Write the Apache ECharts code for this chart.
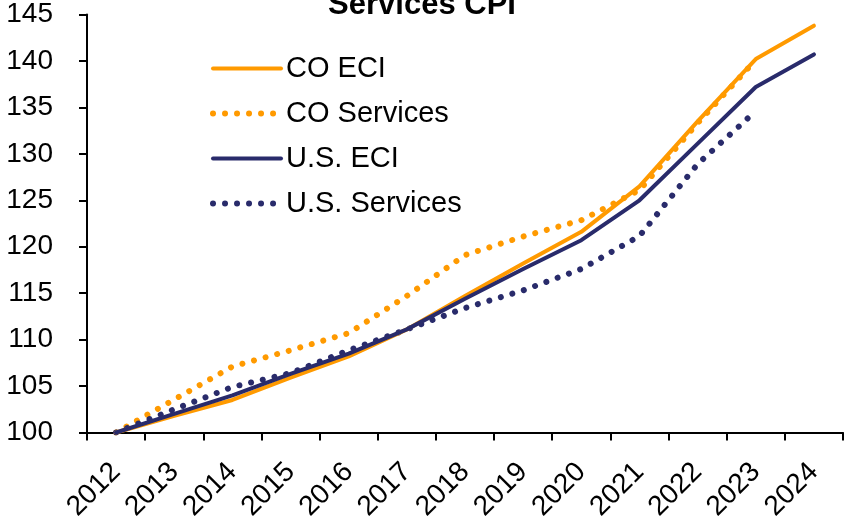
<!DOCTYPE html>
<html>
<head>
<meta charset="utf-8">
<script src="https://cdn.jsdelivr.net/npm/echarts@6/dist/echarts.min.js"></script>
<style>
  html, body { margin: 0; padding: 0; background: #fff; }
  #chart { width: 844px; height: 520px; }
</style>
</head>
<body>
<div id="chart"></div>
<script>
// Index levels, 2012 = 100
const years = ['2012', '2013', '2014', '2015', '2016', '2017', '2018',
               '2019', '2020', '2021', '2022', '2023', '2024'];
const coECI       = [100, 101.8, 103.5, 105.9, 108.2, 111.1, 114.7, 118.2, 121.6, 126.5, 133.5, 140.2, 143.8];
const coServices  = [100, 103.55, 107.1, 108.85, 110.7, 114.7, 119.1, 121.1, 122.85, 126.1, 133.3, 140.1, null];
const usECI       = [100, 102.0, 104.0, 106.3, 108.5, 111.1, 114.4, 117.6, 120.7, 125.0, 131.1, 137.2, 140.7];
const usServices  = [100, 102.5, 104.9, 106.4, 108.85, 111.1, 113.4, 115.3, 117.6, 121.15, 128.9, 134.6, null];

const ORANGE = '#FF9A00';
const NAVY = '#292B6B';
const FONT = "'Liberation Sans', Arial, sans-serif";

const solid = (color) => ({ color: color, width: 4, type: 'solid', cap: 'round', join: 'round' });
const dotted = (color) => ({ color: color, width: 6, type: [0.01, 12], cap: 'round', join: 'round' });

const chart = echarts.init(document.getElementById('chart'), null, { renderer: 'canvas' });
chart.setOption({
  animation: false,
  backgroundColor: '#ffffff',
  title: {
    text: 'Services CPI',
    left: 'center',
    top: -15,
    textStyle: { fontFamily: FONT, fontSize: 31, fontWeight: 'bold', color: '#000' }
  },
  legend: {
    orient: 'vertical',
    left: 210,
    top: 54,
    padding: 0,
    itemWidth: 68,
    itemHeight: 29,
    itemGap: 16,
    itemStyle: { opacity: 0 },
    textStyle: { fontFamily: FONT, fontSize: 29, color: '#000', lineHeight: 29 },
    data: [
      { name: 'CO ECI', lineStyle: solid(ORANGE) },
      { name: 'CO Services', lineStyle: dotted(ORANGE) },
      { name: 'U.S. ECI', lineStyle: solid(NAVY) },
      { name: 'U.S. Services', lineStyle: dotted(NAVY) }
    ]
  },
  grid: { left: 87, right: 1, top: 14.5, bottom: 87.5, containLabel: false, outerBoundsMode: 'none' },
  xAxis: {
    type: 'category',
    data: years,
    boundaryGap: true,
    axisLine: { show: true, lineStyle: { color: '#000', width: 2 } },
    axisTick: { show: true, inside: false, length: 8, interval: 0, lineStyle: { color: '#000', width: 2 } },
    axisLabel: {
      interval: 0, rotate: 45, margin: 35,
      fontFamily: FONT, fontSize: 28, color: '#000'
    },
    splitLine: { show: false }
  },
  yAxis: {
    type: 'value',
    min: 100, max: 145, interval: 5,
    axisLine: { show: true, lineStyle: { color: '#000', width: 2 } },
    axisTick: { show: true, inside: false, length: 8, lineStyle: { color: '#000', width: 2 } },
    axisLabel: { margin: 34, fontFamily: FONT, fontSize: 28, color: '#000' },
    splitLine: { show: false }
  },
  series: [
    { name: 'CO ECI', type: 'line', data: coECI, symbol: 'none', color: ORANGE,
      lineStyle: solid(ORANGE), z: 3 },
    { name: 'CO Services', type: 'line', data: coServices, symbol: 'none', color: ORANGE,
      lineStyle: dotted(ORANGE), z: 2 },
    { name: 'U.S. ECI', type: 'line', data: usECI, symbol: 'none', color: NAVY,
      lineStyle: solid(NAVY), z: 4 },
    { name: 'U.S. Services', type: 'line', data: usServices, symbol: 'none', color: NAVY,
      lineStyle: dotted(NAVY), z: 2 }
  ]
});
</script>
</body>
</html>
